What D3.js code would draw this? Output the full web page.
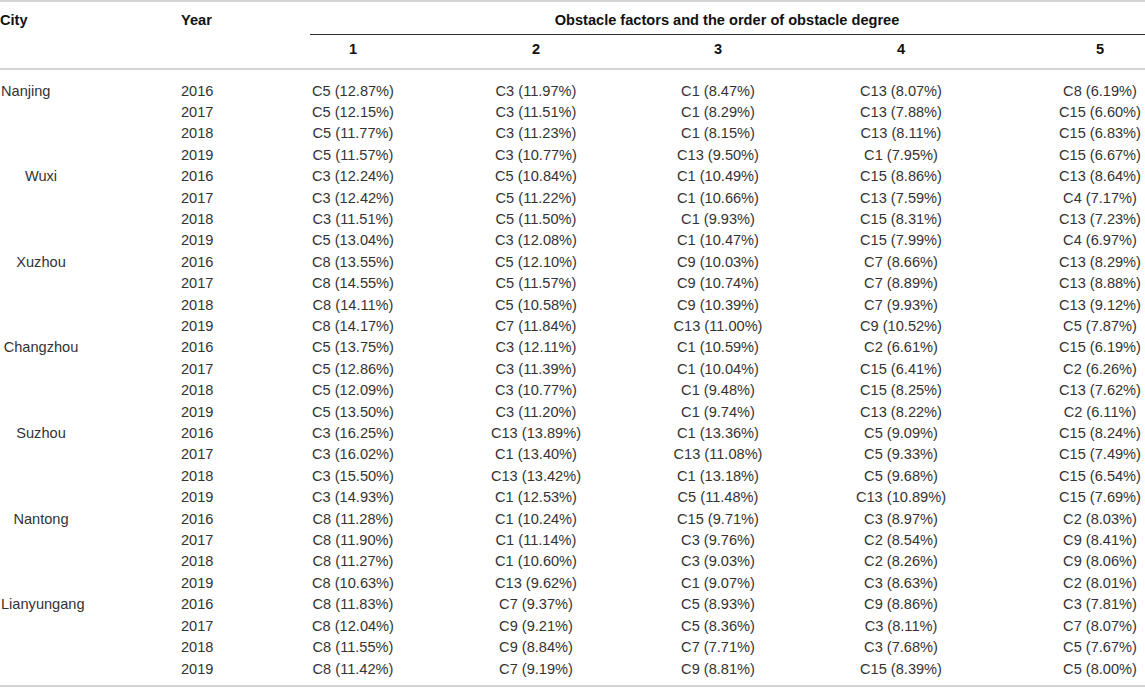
<!DOCTYPE html>
<html>
<head>
<meta charset="utf-8">
<script src="https://cdn.jsdelivr.net/npm/d3@7"></script>
<style>
  body { margin: 0; background: #fff; }
  svg text { font-family: "Liberation Sans", Arial, Helvetica, sans-serif; }
</style>
</head>
<body>
<div id="table"></div>
<script>

// table data
var cities = ["Nanjing", "Wuxi", "Xuzhou", "Changzhou", "Suzhou", "Nantong", "Lianyungang"];
var years = [2016, 2017, 2018, 2019];
var ranks = [1, 2, 3, 4, 5];

// factor codes and obstacle degree (%) for each rank, row by row (city x year)
var rank1Codes = ["C5","C5","C5","C5", "C3","C3","C3","C5", "C8","C8","C8","C8", "C5","C5","C5","C5",
                  "C3","C3","C3","C3", "C8","C8","C8","C8", "C8","C8","C8","C8"];
var rank1Vals = [12.87,12.15,11.77,11.57, 12.24,12.42,11.51,13.04, 13.55,14.55,14.11,14.17, 13.75,12.86,12.09,13.50,
                 16.25,16.02,15.50,14.93, 11.28,11.90,11.27,10.63, 11.83,12.04,11.55,11.42];
var rank2Codes = ["C3","C3","C3","C3", "C5","C5","C5","C3", "C5","C5","C5","C7", "C3","C3","C3","C3",
                  "C13","C1","C13","C1", "C1","C1","C1","C13", "C7","C9","C9","C7"];
var rank2Vals = [11.97,11.51,11.23,10.77, 10.84,11.22,11.50,12.08, 12.10,11.57,10.58,11.84, 12.11,11.39,10.77,11.20,
                 13.89,13.40,13.42,12.53, 10.24,11.14,10.60,9.62, 9.37,9.21,8.84,9.19];
var rank3Codes = ["C1","C1","C1","C13", "C1","C1","C1","C1", "C9","C9","C9","C13", "C1","C1","C1","C1",
                  "C1","C13","C1","C5", "C15","C3","C3","C1", "C5","C5","C7","C9"];
var rank3Vals = [8.47,8.29,8.15,9.50, 10.49,10.66,9.93,10.47, 10.03,10.74,10.39,11.00, 10.59,10.04,9.48,9.74,
                 13.36,11.08,13.18,11.48, 9.71,9.76,9.03,9.07, 8.93,8.36,7.71,8.81];
var rank4Codes = ["C13","C13","C13","C1", "C15","C13","C15","C15", "C7","C7","C7","C9", "C2","C15","C15","C13",
                  "C5","C5","C5","C13", "C3","C2","C2","C3", "C9","C3","C3","C15"];
var rank4Vals = [8.07,7.88,8.11,7.95, 8.86,7.59,8.31,7.99, 8.66,8.89,9.93,10.52, 6.61,6.41,8.25,8.22,
                 9.09,9.33,9.68,10.89, 8.97,8.54,8.26,8.63, 8.86,8.11,7.68,8.39];
var rank5Codes = ["C8","C15","C15","C15", "C13","C4","C13","C4", "C13","C13","C13","C5", "C15","C2","C13","C2",
                  "C15","C15","C15","C15", "C2","C9","C9","C2", "C3","C7","C5","C5"];
var rank5Vals = [6.19,6.60,6.83,6.67, 8.64,7.17,7.23,6.97, 8.29,8.88,9.12,7.87, 6.19,6.26,7.62,6.11,
                 8.24,7.49,6.54,7.69, 8.03,8.41,8.06,8.01, 7.81,8.07,7.67,8.00];

var title = "Obstacle factors and the order of obstacle degree";

var codes = [rank1Codes, rank2Codes, rank3Codes, rank4Codes, rank5Codes];
var vals = [rank1Vals, rank2Vals, rank3Vals, rank4Vals, rank5Vals];

// build row records
var rows = [];
cities.forEach(function (c, ci) {
  years.forEach(function (yr, yi) {
    var i = ci * years.length + yi;
    rows.push({
      city: yi === 0 ? c : "",
      year: yr,
      cells: ranks.map(function (r, ri) { return { rank: r, code: codes[ri][i], val: vals[ri][i] }; })
    });
  });
});

var width = 1145, height = 689;
var fmt = d3.format(".2f");

var svg = d3.select("#table")
  .append("svg")
    .attr("width", width)
    .attr("height", height);

// row positions
var y = d3.scaleLinear()
  .domain([0, rows.length - 1])
  .range([95.5, 673.5]);

// column centres for the five ranks
var x = d3.scaleOrdinal()
  .domain(ranks)
  .range([353, 536, 718, 901, 1100]);

// rules
svg.append("line").attr("x1", 0).attr("x2", width).attr("y1", 1).attr("y2", 1)
  .style("stroke", "#d4d4d4").style("stroke-width", 2);
svg.append("line").attr("x1", 310).attr("x2", width).attr("y1", 34.5).attr("y2", 34.5)
  .style("stroke", "#333").style("stroke-width", 1);
svg.append("line").attr("x1", 0).attr("x2", width).attr("y1", 69).attr("y2", 69)
  .style("stroke", "#d4d4d4").style("stroke-width", 2);
svg.append("line").attr("x1", 0).attr("x2", width).attr("y1", 686).attr("y2", 686)
  .style("stroke", "#d4d4d4").style("stroke-width", 2);

// header
var head = svg.append("g")
  .style("font-weight", "bold")
  .style("font-size", "14.6px")
  .style("fill", "#111");
head.append("text").attr("x", 0).attr("y", 25).text("City");
head.append("text").attr("x", 181).attr("y", 25).text("Year");
head.append("text").attr("x", 727).attr("y", 25).attr("text-anchor", "middle").text(title);
head.selectAll(".rank")
  .data(ranks)
  .enter()
  .append("text")
    .attr("class", "rank")
    .attr("x", function (d) { return x(d); })
    .attr("y", 53.5)
    .attr("text-anchor", "middle")
    .text(function (d) { return d; });

// body rows
var body = svg.append("g")
  .style("font-size", "14.6px")
  .style("fill", "#333");

var row = body.selectAll(".row")
  .data(rows)
  .enter()
  .append("g")
    .attr("class", "row")
    .attr("transform", function (d, i) { return "translate(0," + y(i) + ")"; });

// Nanjing and Lianyungang sit flush left, the other city names are centred
function flush(c) { return c === "Nanjing" || c === "Lianyungang"; }
row.append("text")
  .attr("x", function (d) { return flush(d.city) ? 1 : 41; })
  .attr("text-anchor", function (d) { return flush(d.city) ? "start" : "middle"; })
  .text(function (d) { return d.city; });

row.append("text")
  .attr("x", 181)
  .text(function (d) { return d.year; });

row.selectAll(".cell")
  .data(function (d) { return d.cells; })
  .enter()
  .append("text")
    .attr("class", "cell")
    .attr("x", function (d) { return x(d.rank); })
    .attr("text-anchor", "middle")
    .text(function (d) { return d.code + " (" + fmt(d.val) + "%)"; });

</script>
</body>
</html>
